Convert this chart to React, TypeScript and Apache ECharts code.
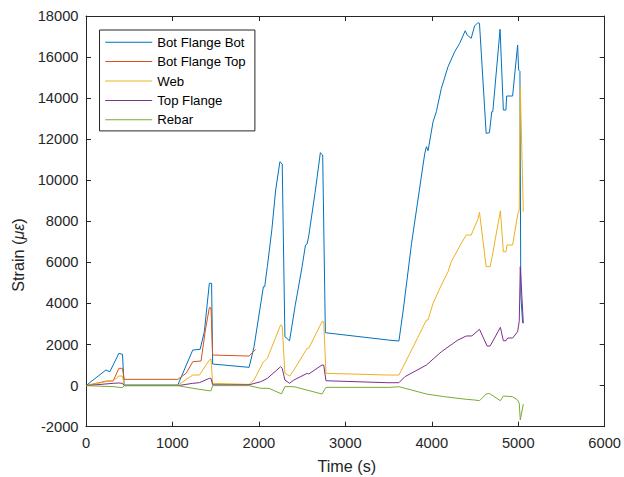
import React, { useEffect, useRef } from "react";
import * as echarts from "echarts";

const seriesNames = ["Bot Flange Bot", "Bot Flange Top", "Web", "Top Flange", "Rebar"];
const seriesColors = ["#0072BD", "#D95319", "#EDB120", "#7E2F8E", "#77AC30"];

const botBotTime = [0, 230, 276, 380, 422, 441, 1062, 1235, 1320, 1369, 1427, 1453, 1465, 1887, 1944, 2052, 2067, 2098, 2150, 2194, 2243, 2270, 2301, 2355, 2420, 2500, 2539, 2558, 2577, 2650, 2711, 2738, 2769, 3497, 3620, 3670, 3766, 3919, 3938, 3957, 4015, 4053, 4111, 4188, 4265, 4323, 4387, 4410, 4456, 4495, 4533, 4552, 4629, 4667, 4694, 4706, 4790, 4828, 4858, 4866, 4935, 4993, 5005, 5020, 5030, 5051];
const botBotStrain = [0, 760, 677, 1573, 1524, 30, 30, 1734, 1767, 2625, 4982, 4982, 1052, 891, 1894, 4816, 4816, 5800, 7600, 9525, 10903, 10791, 2381, 2187, 3900, 5800, 6847, 6900, 7300, 9400, 11342, 11230, 2576, 2221, 2172, 3681, 6929, 11312, 11637, 11442, 12853, 13340, 14478, 15530, 16260, 16670, 17283, 17073, 16913, 17512, 17673, 17640, 12286, 12318, 13340, 13340, 17352, 13423, 13423, 14103, 14103, 16587, 15370, 15300, 4400, 3050];

const botTopTime = [0, 238, 314, 380, 422, 441, 1062, 1158, 1235, 1331, 1381, 1427, 1446, 1465, 1887, 1964];
const botTopStrain = [0, 224, 224, 842, 842, 306, 306, 599, 1165, 1200, 2707, 3794, 3794, 1490, 1441, 1768];

const webTime = [0, 238, 314, 380, 422, 441, 1062, 1235, 1312, 1427, 1446, 1465, 1887, 1944, 2052, 2067, 2098, 2251, 2270, 2301, 2355, 2405, 2558, 2577, 2730, 2750, 2776, 3497, 3620, 3766, 3938, 3957, 4015, 4111, 4188, 4226, 4341, 4399, 4456, 4533, 4552, 4629, 4675, 4698, 4794, 4828, 4858, 4870, 4935, 4993, 5012, 5024, 5059];
const webStrain = [0, 200, 224, 467, 467, 20, 20, 516, 516, 1247, 1295, 112, 60, 273, 1165, 1200, 1329, 2951, 2900, 599, 467, 760, 1816, 1816, 3112, 3112, 599, 516, 516, 1734, 3195, 3195, 4008, 4899, 5547, 6034, 6929, 7334, 7334, 8098, 8439, 5790, 5790, 6277, 8517, 6520, 6520, 6847, 6847, 8307, 8551, 14556, 8470];

const topFlangeTime = [0, 314, 380, 422, 441, 1062, 1235, 1312, 1427, 1446, 1465, 1887, 2021, 2098, 2251, 2270, 2301, 2355, 2405, 2558, 2577, 2730, 2750, 2776, 3497, 3620, 3689, 3938, 4111, 4303, 4399, 4464, 4552, 4640, 4675, 4794, 4828, 4858, 4878, 4935, 4993, 5012, 5024, 5059];
const topFlangeStrain = [0, 112, 130, 112, 0, 0, 112, 145, 355, 355, 40, 40, 190, 355, 920, 842, 273, 112, 273, 599, 570, 1003, 1003, 238, 141, 143, 435, 1003, 1651, 2221, 2415, 2420, 2742, 1928, 1928, 2839, 2187, 2187, 2318, 2318, 2625, 3131, 5790, 3034];

const rebarTime = [0, 314, 422, 441, 1062, 1235, 1427, 1446, 1465, 1887, 2021, 2117, 2262, 2301, 2405, 2730, 2776, 3497, 3620, 3766, 3938, 4149, 4399, 4495, 4552, 4629, 4667, 4794, 4828, 4935, 4993, 5012, 5024, 5059];
const rebarStrain = [0, -50, -100, 0, 0, -130, -250, -250, 0, 0, -130, -134, -400, -50, -50, -409, -85, -85, -54, -214, -409, -540, -667, -700, -735, -409, -380, -735, -506, -540, -700, -860, -1675, -900];

const xTicks = { min: 0, max: 6000, interval: 1000 };
const yTicks = { min: -2000, max: 18000, interval: 2000 };

const FONT = "'Liberation Sans', Arial, Helvetica, sans-serif";
const AX = "#262626";

function zip(t: number[], v: number[]) {
  return t.map((x, i) => [x, v[i]]);
}

export default function App() {
  const ref = useRef<HTMLDivElement>(null);
  useEffect(() => {
    if (!ref.current) return;
    const chart = echarts.init(ref.current, null, { renderer: "svg" });
    const seriesData = [
      zip(botBotTime, botBotStrain),
      zip(botTopTime, botTopStrain),
      zip(webTime, webStrain),
      zip(topFlangeTime, topFlangeStrain),
      zip(rebarTime, rebarStrain),
    ];
    const left = 86, top = 16, right = 607.5, bottom = 426.7;
    const tick = { show: true, inside: true, length: 5, lineStyle: { color: AX, width: 1 } };
    const line = { show: true, onZero: false, lineStyle: { color: AX, width: 1 } };
    const plain = (v: number) => String(v);
    chart.setOption({
      animation: false,
      backgroundColor: "#ffffff",
      grid: { left, top, width: right - left, height: bottom - top, containLabel: false },
      xAxis: [
        {
          type: "value", position: "bottom", ...xTicks,
          axisLine: line, axisTick: tick, splitLine: { show: false },
          axisLabel: { margin: 9, fontSize: 14.7, color: AX, fontFamily: FONT, formatter: plain },
        },
        {
          type: "value", position: "top", ...xTicks,
          axisLine: line, axisTick: tick, splitLine: { show: false },
          axisLabel: { show: false },
        },
      ],
      yAxis: [
        {
          type: "value", position: "left", ...yTicks,
          axisLine: line, axisTick: tick, splitLine: { show: false },
          axisLabel: { margin: 7.5, fontSize: 14.7, color: AX, fontFamily: FONT, formatter: plain },
        },
        {
          type: "value", position: "right", ...yTicks,
          axisLine: line, axisTick: tick, splitLine: { show: false },
          axisLabel: { show: false },
        },
      ],
      legend: {
        orient: "vertical",
        left: 99.5,
        top: 30,
        icon: "rect",
        itemWidth: 47,
        itemHeight: 1,
        itemGap: 6.4,
        padding: [5.7, 9, 4.6, 5.7],
        backgroundColor: "#ffffff",
        borderColor: AX,
        borderWidth: 1,
        borderRadius: 0,
        textStyle: { fontSize: 13.2, color: "#000", fontFamily: FONT },
        data: seriesNames,
      },
      series: seriesNames.map((name, i) => ({
        name,
        type: "line",
        data: seriesData[i],
        xAxisIndex: 0,
        yAxisIndex: 0,
        symbol: "none",
        showSymbol: false,
        color: seriesColors[i],
        itemStyle: { color: seriesColors[i] },
        lineStyle: { color: seriesColors[i], width: 1 },
        emphasis: { disabled: true },
      })),
      graphic: [
        {
          type: "text",
          x: 18,
          y: 255,
          rotation: Math.PI / 2,
          style: {
            text: "{n|Strain (}{g|με}{n|)}",
            align: "center",
            verticalAlign: "middle",
            rich: {
              n: { fontSize: 16.2, fontFamily: FONT, fill: AX, color: AX },
              g: { fontSize: 16.2, fontFamily: FONT, fontStyle: "italic", fill: AX, color: AX },
            },
          },
        },
        {
          type: "text",
          x: (left + right) / 2,
          y: 466,
          style: {
            text: "Time (s)",
            align: "center",
            verticalAlign: "middle",
            fontSize: 16.2,
            fontFamily: FONT,
            fill: AX,
          },
        },
      ],
    });
    return () => chart.dispose();
  }, []);
  return (
    <div
      ref={ref}
      style={{ position: "fixed", left: 0, top: 0, width: 624, height: 477, background: "#fff" }}
    />
  );
}
